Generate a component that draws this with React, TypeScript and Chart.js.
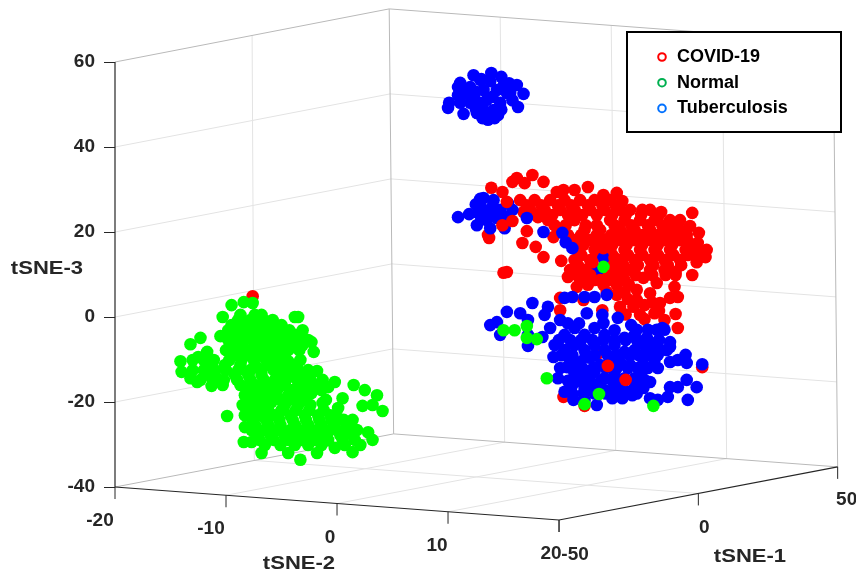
import React, { useEffect, useRef } from "react";
import { Chart, registerables } from "chart.js";

Chart.register(...registerables);

// Values are [tSNE-2 as projected on screen, tSNE-3 as projected on screen].
const seriesNames = ["COVID-19", "Normal", "Tuberculosis"];
const legendColors = ["#ff0000", "#00b050", "#0070ff"];
const tsne1Ticks = [-50, 0, 50];
const tsne2Ticks = [-20, -10, 0, 10, 20];
const tsne3Ticks = [-40, -20, 0, 20, 40, 60];

const covidMain = [
  [13.9,30.4],[14.9,29.4],[15.8,31.8],[16.2,32.7],[17.6,33.4],[18.6,31.8],[16.9,31.5],[19.8,29.4],[20.4,29.9],[21.4,29.9],[22.6,30.6],[24,28.7],[25.2,29.2],[25.7,27.3],[27.5,25.2],[29.2,24.7],[32,24.5],[31.8,21.4],[32.6,19.8],[31.6,17.9],[32.5,17.4],[33.3,15.8],[33.2,14.1],[32.4,12.9],[32,9.9],[30.5,10.6],[30.4,7.1],[30.7,4.7],[30,4.5],[30.5,0.7],[28.6,0.9],[30.7,-2.6],[27.6,9.2],[28.8,8],[27,6.4],[25.9,5.9],[28.2,5.6],[25.5,2.4],[26.7,2.4],[29.1,3.3],[20.8,9.4],[20.2,13.2],[18.6,14.1],[17.9,16.5],[16.7,17.4],[17.1,20.2],[15,10.4],[15.3,10.6],[13.7,18.6],[13.6,19.3],[16.8,24.7],[18.1,23.5],[19.5,18.8],[21.6,7.1],[24.3,5.9],[22.2,4],[20.1,4.5],[20.1,1.6],[23.9,1.6],
  [16.5,27.5],[17.8,27.5],[19.2,27.5],[20.5,27.5],[21.9,27.5],[23.2,27.5],[24.6,27.5],
  [17.4,25.2],[18.7,25.2],[20.1,25.2],[21.4,25.2],[22.8,25.2],[24.1,25.2],[25.5,25.2],[26.4,25.2],[28.2,25.2],
  [19,22.8],[21.4,22.8],[24.6,22.8],[25.9,22.8],[27.3,22.8],[28.6,22.8],[30,22.8],[30.9,22.8],
  [20.1,20.5],[22.3,20.5],[23.7,20.5],[25.5,20.5],[26.8,20.5],[28.2,20.5],[29.5,20.5],[30.9,20.5],
  [21.4,18.1],[22.8,18.1],[24.1,18.1],[25.5,18.1],[26.8,18.1],[28.2,18.1],[29.5,18.1],[30.9,18.1],
  [21.7,15.8],[23.2,15.8],[24.6,15.8],[25.9,15.8],[27.3,15.8],[28.6,15.8],[30,15.8],[31.4,15.8],[32.3,15.8],
  [21.4,13.4],[22.8,13.4],[24.1,13.4],[25.5,13.4],[26.8,13.4],[28.2,13.4],[29.5,13.4],[30.9,13.4],
  [21,11.1],[22.3,11.1],[23.7,11.1],[25,11.1],[26.4,11.1],[28.2,11.1],[29.5,11.1],
  [21.9,8.7],[23.2,8.7],[24.6,8.7],[25.9,8.7],
  [27,4],[27.7,2.8],[27.3,0.5],[29.5,-0.7],
  [17.1,26.3],[18.4,26.3],[19.9,26.3],[21.1,26.3],[22.6,26.3],[23.9,26.3],[25.1,26.3],
  [18,24],[19.4,24],[20.8,24],[22.1,24],[23.4,24],[24.8,24],[26,24],[27.4,24],[29,24],
  [19.6,21.6],[20.6,21.6],[22.4,21.6],[23.4,21.6],[25,21.6],[26.5,21.6],[28,21.6],[29.3,21.6],[30.4,21.6],
  [20.8,19.3],[22,19.3],[23.4,19.3],[24.7,19.3],[26.2,19.3],[27.5,19.3],[28.9,19.3],[30.2,19.3],[31.5,19.3],
  [21.2,17],[22.2,17],[23.5,17],[24.8,17],[26.1,17],[27.5,17],[28.9,17],[30.2,17],[31.6,17],
  [22,14.6],[23.4,14.6],[24.8,14.6],[26.2,14.6],[27.5,14.6],[28.9,14.6],[30.3,14.6],[31.6,14.6],[32.5,14.6],
  [21.7,12.2],[22.9,12.2],[24.4,12.2],[25.8,12.2],[27.1,12.2],[28.5,12.2],[29.8,12.2],[31,12.2],
  [21.6,9.9],[22.8,9.9],[24.3,9.9],[25.6,9.9],[26.9,9.9],[28.4,9.9],[29.6,9.9],[30.5,9.9],
  [22.6,7.6],[24,7.6],[25.2,7.6],[26.3,7.6],
  [26.2,4.2],[28.4,3.4],[29,1.4],[27.7,-0.5],[26,0.6],[25.2,5.2],
  [32.9,-11.8],[20.4,-18.8],[23.4,-8.9],[22.3,-20.9],[-7.6,4.9],
];

const covidOnTop = [
  [15.3,27.1],[15.8,22.6],[14.9,21.6],[23,12.9],[25,13.9],[24.8,9.9],[23.7,8.7],[22.8,9.9],[24,16.2],[24.4,-11.5],[26,-14.8],
];

const normalValues = [
  [-8.4,3.5],[-7.6,3.3],[-9.5,2.8],[-10.3,0],[-3.8,0],[-3.5,0],[-5.8,-0.7],[-10.5,-4.5],[-3.1,-3.1],[-12.3,-4.9],[-13.2,-6.4],[-2.3,-5.9],[-2.1,-8.2],[-14.1,-10.4],[-14,-12.9],[-13.2,-14.4],[-12.6,-15.3],[-11.3,-16.2],[-10.3,-16],[-11.7,-8.2],[-12.5,-9.4],[-3.3,-10.1],[-4.4,-10.4],[-1.8,-12.7],[-0.2,-15.3],[-0.8,-16.5],[-2.3,-17.9],[1.5,-16],[0.5,-19.1],[2.5,-17.2],[3.6,-18.4],[4.1,-22.1],[2.3,-20.9],[3.2,-20.7],[0.1,-21.4],[-1.3,-20.2],[-9.9,-23.3],[-8.5,-20.7],[-8.3,-23.1],[-8.3,-25.9],[-8.4,-29.4],[-7.7,-29.4],[-6.8,-32],[-4.4,-32],[-3.3,-33.6],[-1.8,-32],[-0.2,-30.8],[1.4,-31.8],[2.1,-30.1],[3.2,-28.9],[2.8,-27.1],[1.4,-24.2],[0.1,-23.8],[-5.9,-20],
  [-8.7,0.5],[-7.4,0.5],[-6.8,0.5],
  [-9.5,-1.9],[-8.3,-1.9],[-7.1,-1.9],[-6,-1.9],[-5,-1.9],
  [-9.2,-4.2],[-8,-4.2],[-6.9,-4.2],[-5.9,-4.2],[-4.7,-4.2],[-3.8,-4.2],
  [-9.6,-6.6],[-8.5,-6.6],[-7.4,-6.6],[-6.2,-6.6],[-5.1,-6.6],[-4.1,-6.6],[-3.1,-6.6],
  [-9.2,-8.9],[-8,-8.9],[-6.9,-8.9],[-5.9,-8.9],[-4.7,-8.9],
  [-11.3,-11.3],[-10.1,-11.3],[-8.7,-11.3],[-7.4,-11.3],[-6.2,-11.3],[-5.1,-11.3],[-3.8,-11.3],
  [-11.9,-13.6],[-11,-13.6],[-9.2,-13.6],[-8,-13.6],[-6.8,-13.6],[-5.3,-13.6],[-4.2,-13.6],[-2.9,-13.6],
  [-8.7,-16],[-7.4,-16],[-6,-16],[-4.7,-16],[-3.3,-16],[-1.7,-16],
  [-8.3,-18.4],[-7.1,-18.4],[-6,-18.4],[-4.4,-18.4],[-3.3,-18.4],
  [-7.8,-20.7],[-6.8,-20.7],[-4.7,-20.7],[-3.5,-20.7],[-2.4,-20.7],
  [-7.1,-23.1],[-5.6,-23.1],[-4.2,-23.1],[-2.9,-23.1],[-1.7,-23.1],[-0.6,-23.1],
  [-7.4,-25.4],[-6.2,-25.4],[-5.1,-25.4],[-3.8,-25.4],[-2.6,-25.4],[-1.4,-25.4],[-0.2,-25.4],[1,-25.4],
  [-7.1,-27.8],[-6,-27.8],[-4.7,-27.8],[-3.5,-27.8],[-2.3,-27.8],[-1.1,-27.8],[0.3,-27.8],[1.4,-27.8],
  [-6.5,-30.1],[-5.1,-30.1],[-3.8,-30.1],[-2.6,-30.1],[-1.4,-30.1],[0.7,-30.1],
  [-8.9,-0.7],[-7.8,-0.7],[-6.6,-0.7],
  [-9.8,-3.1],[-8.7,-3.1],[-7.6,-3.1],[-6.5,-3.1],[-5.4,-3.1],[-4.3,-3.1],
  [-9.8,-5.4],[-8.7,-5.4],[-7.6,-5.4],[-6.5,-5.4],[-5.4,-5.4],[-4.3,-5.4],[-3.3,-5.4],[-2.6,-5.4],
  [-10,-7.8],[-8.8,-7.8],[-7.7,-7.8],[-6.6,-7.8],[-5.5,-7.8],[-4.4,-7.8],[-3.4,-7.8],
  [-13,-10.1],[-12,-10.1],[-11.1,-10.1],[-9.7,-10.1],[-8.6,-10.1],[-7.5,-10.1],[-6.4,-10.1],[-5.3,-10.1],
  [-13,-12.5],[-12,-12.5],[-11,-12.5],[-10,-12.5],[-8.9,-12.5],[-7.8,-12.5],[-6.8,-12.5],[-5.7,-12.5],[-4.6,-12.5],[-3.5,-12.5],[-2.6,-12.5],
  [-12.3,-14.8],[-11.2,-14.8],[-10.2,-14.8],[-9,-14.8],[-7.8,-14.8],[-6.6,-14.8],[-5.6,-14.8],[-4.6,-14.8],[-3.6,-14.8],[-2.4,-14.8],[-1.3,-14.8],
  [-8,-17.2],[-6.7,-17.2],[-5.4,-17.2],[-4,-17.2],[-2.6,-17.2],[-1.4,-17.2],
  [-7.7,-19.5],[-6.6,-19.5],[-5.1,-19.5],[-3.9,-19.5],[-2.8,-19.5],[-1,-19.5],
  [-7.4,-21.9],[-6.2,-21.9],[-5,-21.9],[-3.7,-21.9],[-2.5,-21.9],[-1.2,-21.9],
  [-7.6,-24.2],[-6.4,-24.2],[-5.2,-24.2],[-4,-24.2],[-2.8,-24.2],[-1.6,-24.2],[-0.5,-24.2],[0.6,-24.2],
  [-7.7,-26.6],[-6.6,-26.6],[-5.4,-26.6],[-4.2,-26.6],[-3,-26.6],[-1.8,-26.6],[-0.6,-26.6],[0.7,-26.6],[1.8,-26.6],
  [-7,-28.9],[-5.7,-28.9],[-4.4,-28.9],[-3.2,-28.9],[-2,-28.9],[-0.8,-28.9],[0.5,-28.9],[1.6,-28.9],
  [15,-3.1],[16,-3.1],[17.1,-2.1],[17.1,-4.9],[18,-5.2],[18.9,-14.4],[23.6,-18.1],[22.3,-20.5],[28.5,-20.9],[24,11.8],
];

const tuberculosisValues = [
  [10,49.2],[10.1,50.4],[11.4,47.8],[10.9,54.1],[11.1,55.1],[12.3,56.9],[12.9,55.8],[13.9,57.4],[14.8,56.5],[16.2,54.6],[16.8,52.5],[16.3,49.4],[15.6,52.7],[10.9,52.2],[11.1,50.4],[13.1,46.8],[14.2,46.8],[13.6,46.4],[12.6,48],[12,54.1],[13.2,53.4],[14.4,53.4],[12.3,51.8],[13.5,51.1],[14.7,50.4],[14.1,48.7],[13.2,48.7],[12,50.4],[15.3,52.7],[11.5,52.9],[12.9,50.4],[14.5,47.5],
  [12.5,49],[15,54.5],[11.8,52.5],[15.8,51],[14,51.8],[13,56],[12.5,53],[13.8,55.5],[14.8,48.8],[13.8,47.5],[15.5,55],
  [10.9,23.5],[11.9,24.2],[12.9,27.8],[12.6,21.6],[13.8,20.9],[15.1,20.9],[13.2,25.2],[14.1,27.5],[13.8,25.2],[14.7,25.2],[13.5,22.8],[14.4,23.3],[12.7,24.5],[15.4,26.8],[15.8,25.2],[17.1,23.3],[18.6,20],[20.3,19.8],[20.6,17.6],[21.2,16.2],
  [13,23],[14,24],[15.2,23.5],[12.5,26.5],[14,26],[13.2,28],
  [20.5,4.5],[21.2,4.7],[22.3,4.7],[23.2,4.7],[24.3,5.2],[24,13.9],[23.5,11.1],
  [13.8,-1.9],[14.4,-1.2],[15.3,1.2],[17.6,3.3],[14.7,-4.2],[16.5,0.9],[17.2,-0.7],[17.2,-4.2],[17.2,-6.8],[18.5,-4.7],[19,2.4],[18.7,0.5],[19.2,-2.6],[20.1,-0.7],[22.5,0.9],[23.9,0.5],[24,-1.4],[25.3,-0.2],[26.5,-1.9],[29.3,-2.6],[30,-5.9],[29.7,-7.8],[27.9,-4.9],[31.4,-8.9],[31.5,-10.8],[30,-10.6],[30.7,-10.1],[32.9,-11.1],[28.9,-12],[27.6,-11.3],[28.2,-15.3],[30,-16.5],[30.7,-16.5],[31.5,-14.8],[32.4,-16.5],[31.6,-19.5],[29.8,-18.8],[28.9,-19.5],[28.2,-19.1],[19.5,-9.4],[19.6,-6.6],[20.7,-11.8],[19.9,-14.4],[20.5,-17.6],[21.3,-19.5],[22.3,-19.5],[23.4,-20.7],[24.8,-19.1],[25.7,-19.1],[26.6,-18.4],[27.6,-16.7],
  [20.5,-4.2],[21.4,-2.6],[22.3,-4.2],[23.2,-2.6],[24.1,-4.2],[25,-3.1],[25.9,-4.9],[26.8,-4.2],[27.7,-6.6],
  [20.5,-7.8],[21.4,-6.6],[22.3,-7.8],[23.2,-6.6],[24.1,-7.8],[25,-6.6],[25.9,-8.2],[26.8,-7.8],[27.5,-9.6],
  [21,-10.1],[21.9,-10.6],[22.8,-9.6],[23.7,-11.3],[24.6,-10.1],[25.5,-10.6],[26.4,-11.3],[27.3,-12.9],
  [21.4,-13.6],[22.3,-13.6],[23.2,-12.9],[24.1,-14.4],[25,-13.6],[25.9,-14.4],[26.8,-14.4],[27.7,-14.8],
  [21.2,-16],[22.3,-16.7],[23.2,-16],[24.1,-17.2],[25,-16.7],[25.9,-17.2],[26.8,-16.7],
  [28.6,-6.6],[28,-8.2],[28.9,-8.9],[28.6,-10.1],
  [20.8,-1.5],[21.8,-1.5],
  [20,-5.4],[21,-5.4],[22,-5.4],[23,-5.4],[24,-5.4],[25,-5.4],[26,-5.4],[27,-5.4],[28,-5.4],[29,-5.4],
  [20.2,-9],[21.2,-9],[22.4,-9],[23.2,-9],[24.4,-9],[25.2,-9],[26.4,-9],[27.2,-9],[28.1,-9],
  [20.1,-12],[21.1,-12],[22.1,-12],[23.1,-12],[24.2,-12],[25.2,-12],[26.2,-12],[27.1,-12],[28,-12],
  [20.8,-15],[21.8,-15],[22.8,-15],[23.8,-15],[24.8,-15],[25.8,-15],[26.8,-15],
  [21.2,-18],[22.2,-18],[23.2,-18],[24.2,-18],[25.2,-18],[26.2,-18],[27,-18],
  [27,-3],[28,-3],[28.8,-3],[29.5,-3],[28.9,-7],[30,-7],
];

const toPoints = (rows: number[][]) => rows.map(([x, y]) => ({ x, y }));

const INK = "#262626";
const EDGE = "#b9b9b9";
const GRID = "#e3e3e3";
const TEXT_FONT = "bold 19px 'Liberation Sans'";
const TICK_FONT = "bold 19px 'Liberation Sans'";

// Maps the three axes to the two screen-plane scales (the MATLAB view of the box).
const project = (t2: number, t1: number, t3: number) => {
  const depth = (t1 + 50) / 100;
  const rise = (t3 + 40) / 100;
  return {
    x: t2 + depth * (25.1 - 0.4 * rise),
    y: t3 - ((t2 + 20) / 40) * 7.76 + depth * 12.5,
  };
};

const boxPlugin = {
  id: "box3d",
  beforeDatasetsDraw(chart: any) {
    const { ctx, scales } = chart;
    const px = (p: { x: number; y: number }) => [scales.x.getPixelForValue(p.x), scales.y.getPixelForValue(p.y)];
    const line = (a: any, b: any, color: string, w = 1) => {
      const [x1, y1] = px(a);
      const [x2, y2] = px(b);
      ctx.strokeStyle = color;
      ctx.lineWidth = w;
      ctx.beginPath();
      ctx.moveTo(x1, y1);
      ctx.lineTo(x2, y2);
      ctx.stroke();
    };
    const label = (text: string, x: number, y: number, font: string, stretch = 1) => {
      ctx.save();
      ctx.translate(x, y);
      ctx.scale(stretch, 1);
      ctx.font = font;
      ctx.fillStyle = INK;
      ctx.textAlign = "center";
      ctx.textBaseline = "middle";
      ctx.fillText(text, 0, 0);
      ctx.restore();
    };
    ctx.save();
    const zLo = tsne3Ticks[0];
    const zHi = tsne3Ticks[tsne3Ticks.length - 1];
    const t2Lo = tsne2Ticks[0];
    const t2Hi = tsne2Ticks[tsne2Ticks.length - 1];
    const t1Lo = tsne1Ticks[0];
    const t1Hi = tsne1Ticks[tsne1Ticks.length - 1];

    // wall and floor grid
    tsne3Ticks.slice(1, -1).forEach((z) => {
      line(project(t2Lo, t1Lo, z), project(t2Lo, t1Hi, z), GRID);
      line(project(t2Lo, t1Hi, z), project(t2Hi, t1Hi, z), GRID);
    });
    tsne2Ticks.slice(1, -1).forEach((t) => {
      line(project(t, t1Hi, zLo), project(t, t1Hi, zHi), GRID);
      line(project(t, t1Lo, zLo), project(t, t1Hi, zLo), GRID);
    });
    tsne1Ticks.slice(1, -1).forEach((t) => {
      line(project(t2Lo, t, zLo), project(t2Lo, t, zHi), GRID);
      line(project(t2Lo, t, zLo), project(t2Hi, t, zLo), GRID);
    });
    // box edges
    line(project(t2Lo, t1Lo, zHi), project(t2Lo, t1Hi, zHi), EDGE);
    line(project(t2Lo, t1Hi, zHi), project(t2Hi, t1Hi, zHi), EDGE);
    line(project(t2Lo, t1Hi, zLo), project(t2Lo, t1Hi, zHi), EDGE);
    line(project(t2Hi, t1Hi, zLo), project(t2Hi, t1Hi, zHi), EDGE);
    line(project(t2Lo, t1Lo, zLo), project(t2Lo, t1Hi, zLo), EDGE);
    line(project(t2Lo, t1Hi, zLo), project(t2Hi, t1Hi, zLo), EDGE);
    // axes
    line(project(t2Lo, t1Lo, zLo), project(t2Lo, t1Lo, zHi), INK, 1.2);
    line(project(t2Lo, t1Lo, zLo), project(t2Hi, t1Lo, zLo), INK, 1.2);
    line(project(t2Hi, t1Lo, zLo), project(t2Hi, t1Hi, zLo), INK, 1.2);
    const tick = (p: any) => {
      const [x, y] = px(p);
      ctx.strokeStyle = INK;
      ctx.lineWidth = 1;
      ctx.beginPath();
      ctx.moveTo(x, y);
      ctx.lineTo(x, y + 12);
      ctx.stroke();
    };
    tsne2Ticks.forEach((t, i) => {
      tick(project(t, t1Lo, zLo));
      const [x, y] = px(project(t, t1Lo, zLo));
      label(String(t), x + [-15, -15, -7, -11, -8][i], y + 34, TICK_FONT);
    });
    tsne1Ticks.forEach((t, i) => {
      tick(project(t2Hi, t, zLo));
      const [x, y] = px(project(t2Hi, t, zLo));
      label(String(t), x + [16, 6, 9][i], y + [35, 34, 33][i], TICK_FONT);
    });
    label("tSNE-2", 299, 564, TEXT_FONT, 1.16);
    label("tSNE-1", 750, 557, TEXT_FONT, 1.16);
    label("tSNE-3", 47, 269, TEXT_FONT, 1.16);
    ctx.restore();
  },
  afterDatasetsDraw(chart: any) {
    const { ctx } = chart;
    ctx.save();
    ctx.fillStyle = "#ffffff";
    ctx.strokeStyle = "#000000";
    ctx.lineWidth = 2;
    ctx.fillRect(627, 32, 214, 100);
    ctx.strokeRect(627, 32, 214, 100);
    seriesNames.forEach((name, i) => {
      const y = 57 + i * 25.7;
      ctx.beginPath();
      ctx.arc(662, y, 3.8, 0, Math.PI * 2);
      ctx.strokeStyle = legendColors[i];
      ctx.lineWidth = 2;
      ctx.stroke();
      ctx.font = "bold 18px 'Liberation Sans'";
      ctx.fillStyle = "#000000";
      ctx.textAlign = "left";
      ctx.textBaseline = "middle";
      ctx.fillText(name, 677, y);
    });
    ctx.restore();
  },
};

export default function App() {
  const ref = useRef<HTMLCanvasElement>(null);
  useEffect(() => {
    document.body.style.margin = "0";
    const style = { pointRadius: 6.3, pointHoverRadius: 6.3, pointBorderWidth: 0, showLine: false };
    const chart = new Chart(ref.current as HTMLCanvasElement, {
      type: "scatter",
      data: {
        datasets: [
          { label: seriesNames[0], data: toPoints(covidMain), pointBackgroundColor: "#ff0000", order: 4, ...style },
          { label: seriesNames[2], data: toPoints(tuberculosisValues), pointBackgroundColor: "#0000ff", order: 3, ...style },
          { label: seriesNames[1], data: toPoints(normalValues), pointBackgroundColor: "#00ff00", order: 2, ...style },
          { label: seriesNames[0] + " (front)", data: toPoints(covidOnTop), pointBackgroundColor: "#ff0000", order: 1, ...style },
        ],
      },
      options: {
        responsive: false,
        animation: false,
        layout: { padding: { top: 10, bottom: 56, right: 21, left: 0 } },
        plugins: { legend: { display: false }, tooltip: { enabled: false } },
        scales: {
          x: { type: "linear", display: false, min: -20, max: 44.86 },
          y: {
            type: "linear",
            min: -47.76,
            max: 72.24,
            afterBuildTicks: (s: any) => {
              s.ticks = tsne3Ticks.map((value) => ({ value }));
            },
            afterFit: (s: any) => {
              s.width = 115;
              s.paddingTop = 0;
              s.paddingBottom = 0;
            },
            border: { display: false },
            grid: { drawOnChartArea: false, drawTicks: true, tickLength: 11, color: INK },
            ticks: {
              color: INK,
              padding: 9,
              font: { family: "'Liberation Sans'", size: 19, weight: "bold" },
              autoSkip: false,
            },
          },
        },
      } as any,
      plugins: [boxPlugin],
    });
    return () => chart.destroy();
  }, []);
  return <canvas ref={ref} width={856} height={576} style={{ display: "block" }} />;
}
